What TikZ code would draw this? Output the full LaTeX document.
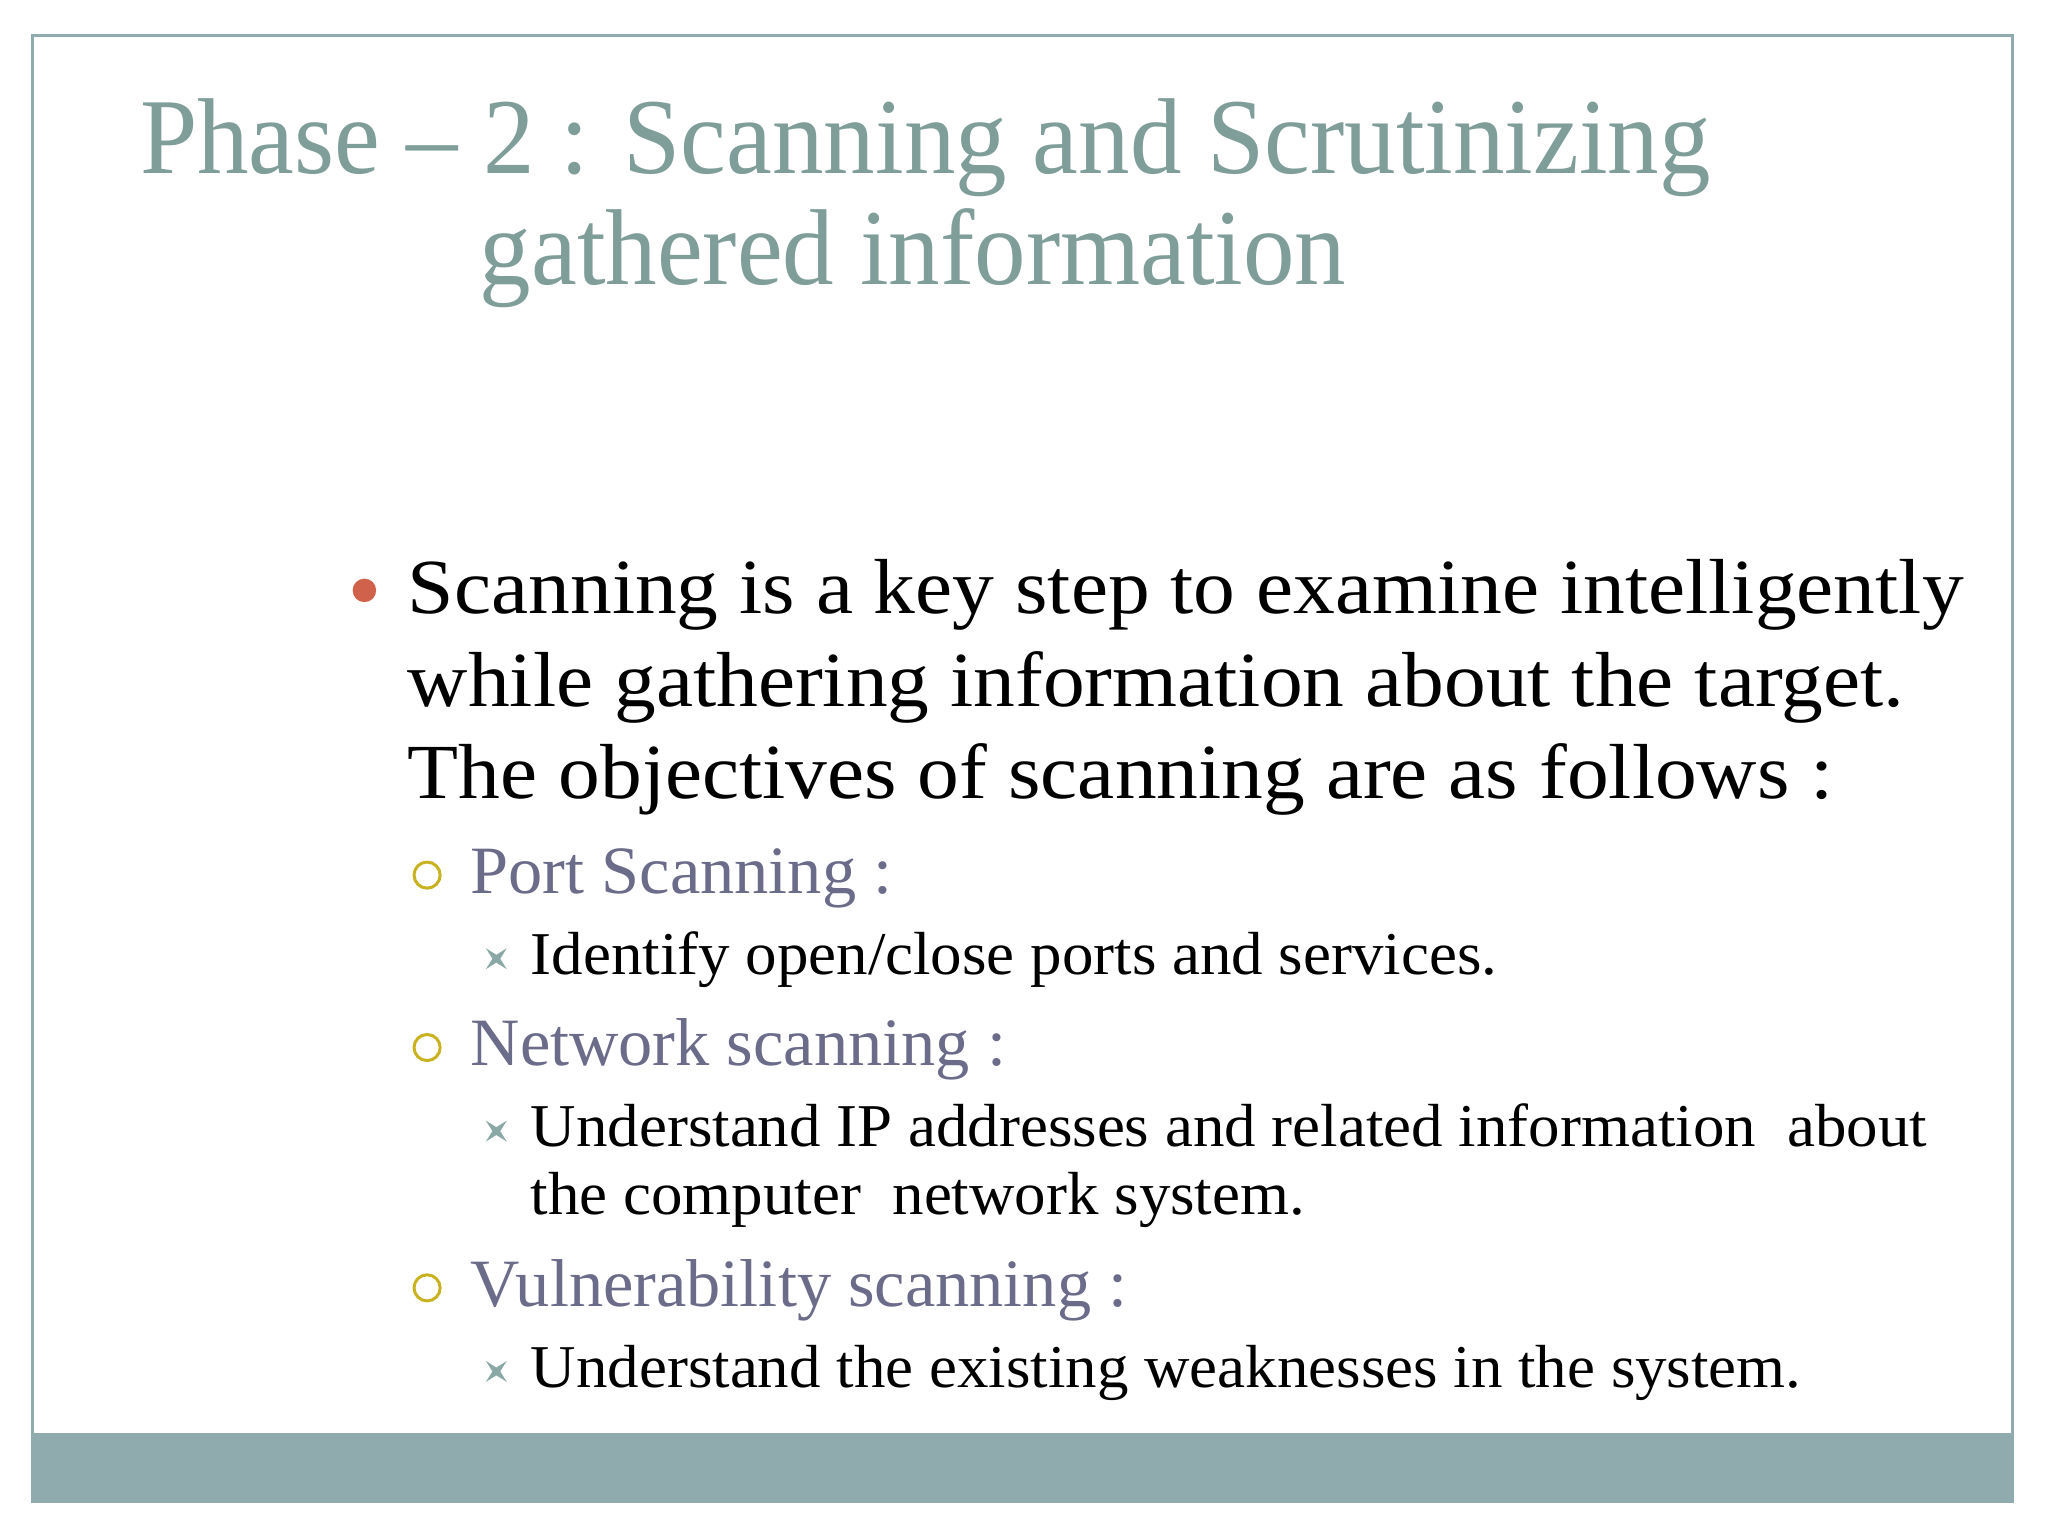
\documentclass[tikz,border=0pt]{standalone}
\usepackage{fontspec}
\setmainfont{Liberation Serif}
\definecolor{titlec}{HTML}{7F9E9A}
\definecolor{barc}{HTML}{8FABAD}
\definecolor{redc}{HTML}{D0614A}
\definecolor{yelc}{HTML}{C9B220}
\definecolor{subc}{HTML}{6B6B8A}
\definecolor{starc}{HTML}{8AA8A6}
\tikzset{
  title/.style={anchor=base west,inner sep=0pt,text=titlec,font=\fontsize{47}{50}\selectfont\addfontfeature{FakeStretch=0.955}},
  main/.style={anchor=base west,inner sep=0pt,font=\fontsize{34}{36}\selectfont\addfontfeature{FakeStretch=1.07}},
  sub/.style={anchor=base west,inner sep=0pt,text=subc,font=\fontsize{29.5}{32}\selectfont\addfontfeature{FakeStretch=1.01}},
  subsub/.style={anchor=base west,inner sep=0pt,font=\fontsize{26.5}{28}\selectfont\addfontfeature{FakeStretch=1.035}}
}
\newcommand{\starb}[1]{\fill[starc] (#1) ++(-8,-8) -- ++(8,5) -- ++(8,-5) -- ++(-5,8) -- ++(5,8) -- ++(-8,-5) -- ++(-8,5) -- ++(5,-8) -- cycle;}
\begin{document}
\begin{tikzpicture}[x=0.02cm,y=-0.02cm]
\useasboundingbox (0,0) rectangle (1568,1176);
\fill[white] (0,0) rectangle (1568,1176);
\fill[barc] (25,1097) rectangle (1541,1150);
\draw[barc,line width=1.2pt] (25,27) rectangle (1541,1150);
\node[title] (t1) at (107,133) {Phase – 2 : Scanning and Scrutinizing};
\node[title] (t2) at (367,218) {gathered information};
\fill[redc] (279,452) circle (9);
\node[main] (m1) at (312,470) {Scanning is a key step to examine intelligently};
\node[main] (m2) at (312,541) {while gathering information about the target.};
\node[main] (m3) at (312,611) {The objectives of scanning are as follows :};
\draw[yelc,line width=1.3pt] (327,670) circle (10);
\node[sub] (p) at (360,684) {Port Scanning :};
\starb{380,734}
\node[subsub] (p1) at (406,746) {Identify open/close ports and services.};
\draw[yelc,line width=1.3pt] (327,802) circle (10);
\node[sub] (n) at (360,816) {Network scanning :};
\starb{380,866}
\node[subsub] (n1) at (406,878) {Understand IP addresses and related information\ \ about};
\node[subsub] (n2) at (406,930) {the computer\ \ network system.};
\draw[yelc,line width=1.3pt] (327,986) circle (10);
\node[sub] (v) at (360,1000) {Vulnerability scanning :};
\starb{380,1050}
\node[subsub] (v1) at (406,1062) {Understand the existing weaknesses in the system.};
\end{tikzpicture}
\end{document}
